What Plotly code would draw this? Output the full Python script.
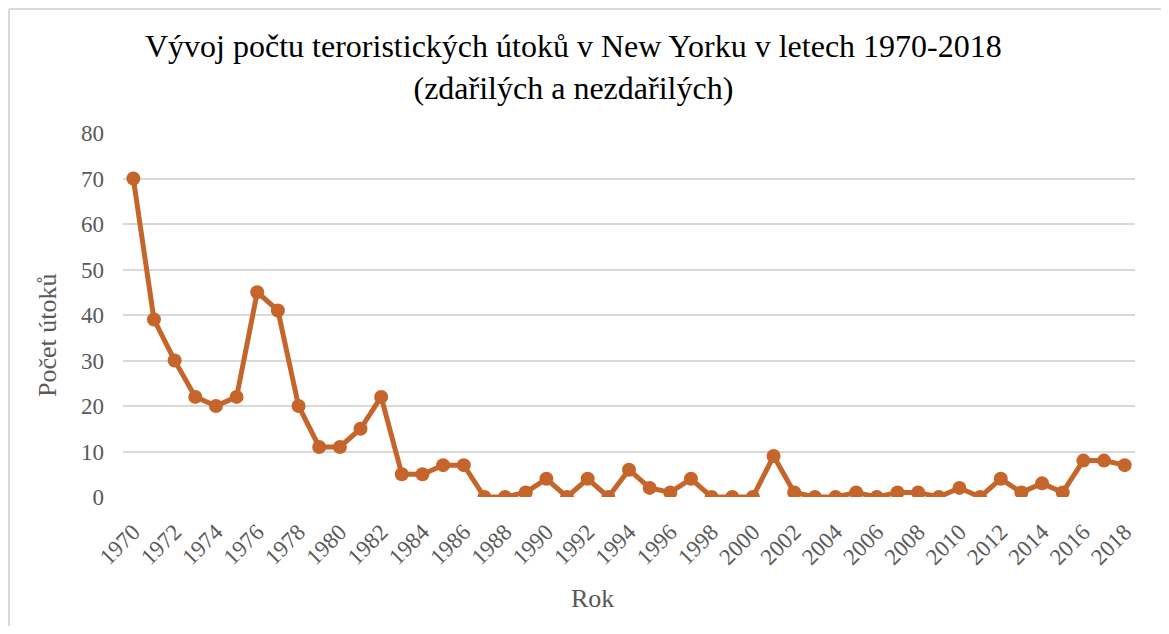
import plotly.graph_objects as go

years = list(range(1970, 2019))
attacks = [70, 39, 30, 22, 20, 22, 45, 41, 20, 11,
           11, 15, 22, 5, 5, 7, 7, 0, 0, 1,
           4, 0, 4, 0, 6, 2, 1, 4, 0, 0,
           0, 9, 1, 0, 0, 1, 0, 1, 1, 0,
           2, 0, 4, 1, 3, 1, 8, 8, 7]
tick_years = list(range(1970, 2019, 2))

title_text = "Vývoj počtu teroristických útoků v New Yorku v letech 1970-2018<br>(zdařilých a nezdařilých)"

serif = "Times New Roman, Liberation Serif, serif"
orange = "#C5652B"
grey = "#595959"

# the page body has an 8px margin, so the figure is sized to sit inside it
W, H = 1153, 618
L, R, T, B = 115, 26, 125, 129
pw = W - L - R
ph = H - T - B


def px(x):
    return (x - L) / pw


def py(y):
    return (H - B - y) / ph


fig = go.Figure(go.Scatter(
    x=years,
    y=attacks,
    mode="lines+markers",
    line=dict(color=orange, width=5),
    marker=dict(color=orange, size=14),
    showlegend=False,
))

fig.update_layout(
    width=W,
    height=H,
    paper_bgcolor="white",
    plot_bgcolor="white",
    margin=dict(l=L, r=R, t=T, b=B),
    font=dict(family=serif, color=grey, size=22),
    xaxis=dict(
        range=[1969.5, 2018.5],
        tickvals=tick_years,
        ticktext=[str(y) for y in tick_years],
        tickangle=-45,
        showgrid=False,
        zeroline=False,
        showline=False,
        ticks="",
        ticklabelstandoff=16,
        tickfont=dict(size=23, color=grey),
    ),
    yaxis=dict(
        range=[0, 80],
        dtick=10,
        showgrid=True,
        gridcolor="#D9D9D9",
        gridwidth=2,
        zeroline=False,
        showline=False,
        ticks="",
        ticklabelstandoff=18,
        tickfont=dict(size=23, color=grey),
    ),
    annotations=[
        dict(text=title_text, xref="paper", yref="paper",
             x=px(565), y=py(59), xanchor="center", yanchor="middle",
             showarrow=False,
             font=dict(family=serif, size=32, color="black")),
        dict(text="Počet útoků", xref="paper", yref="paper",
             x=px(39), y=py(327), xanchor="center", yanchor="middle",
             textangle=-90, showarrow=False,
             font=dict(family=serif, size=26, color=grey)),
        dict(text="Rok", xref="paper", yref="paper",
             x=px(584), y=py(590), xanchor="center", yanchor="middle",
             showarrow=False,
             font=dict(family=serif, size=26, color=grey)),
    ],
    shapes=[
        dict(type="line", xref="paper", yref="paper",
             x0=px(1), x1=px(1), y0=py(H), y1=py(1),
             line=dict(color="#D9D9D9", width=2)),
        dict(type="line", xref="paper", yref="paper",
             x0=px(1), x1=px(W), y0=py(1), y1=py(1),
             line=dict(color="#D9D9D9", width=2)),
    ],
)

fig.write_html("out.html")
